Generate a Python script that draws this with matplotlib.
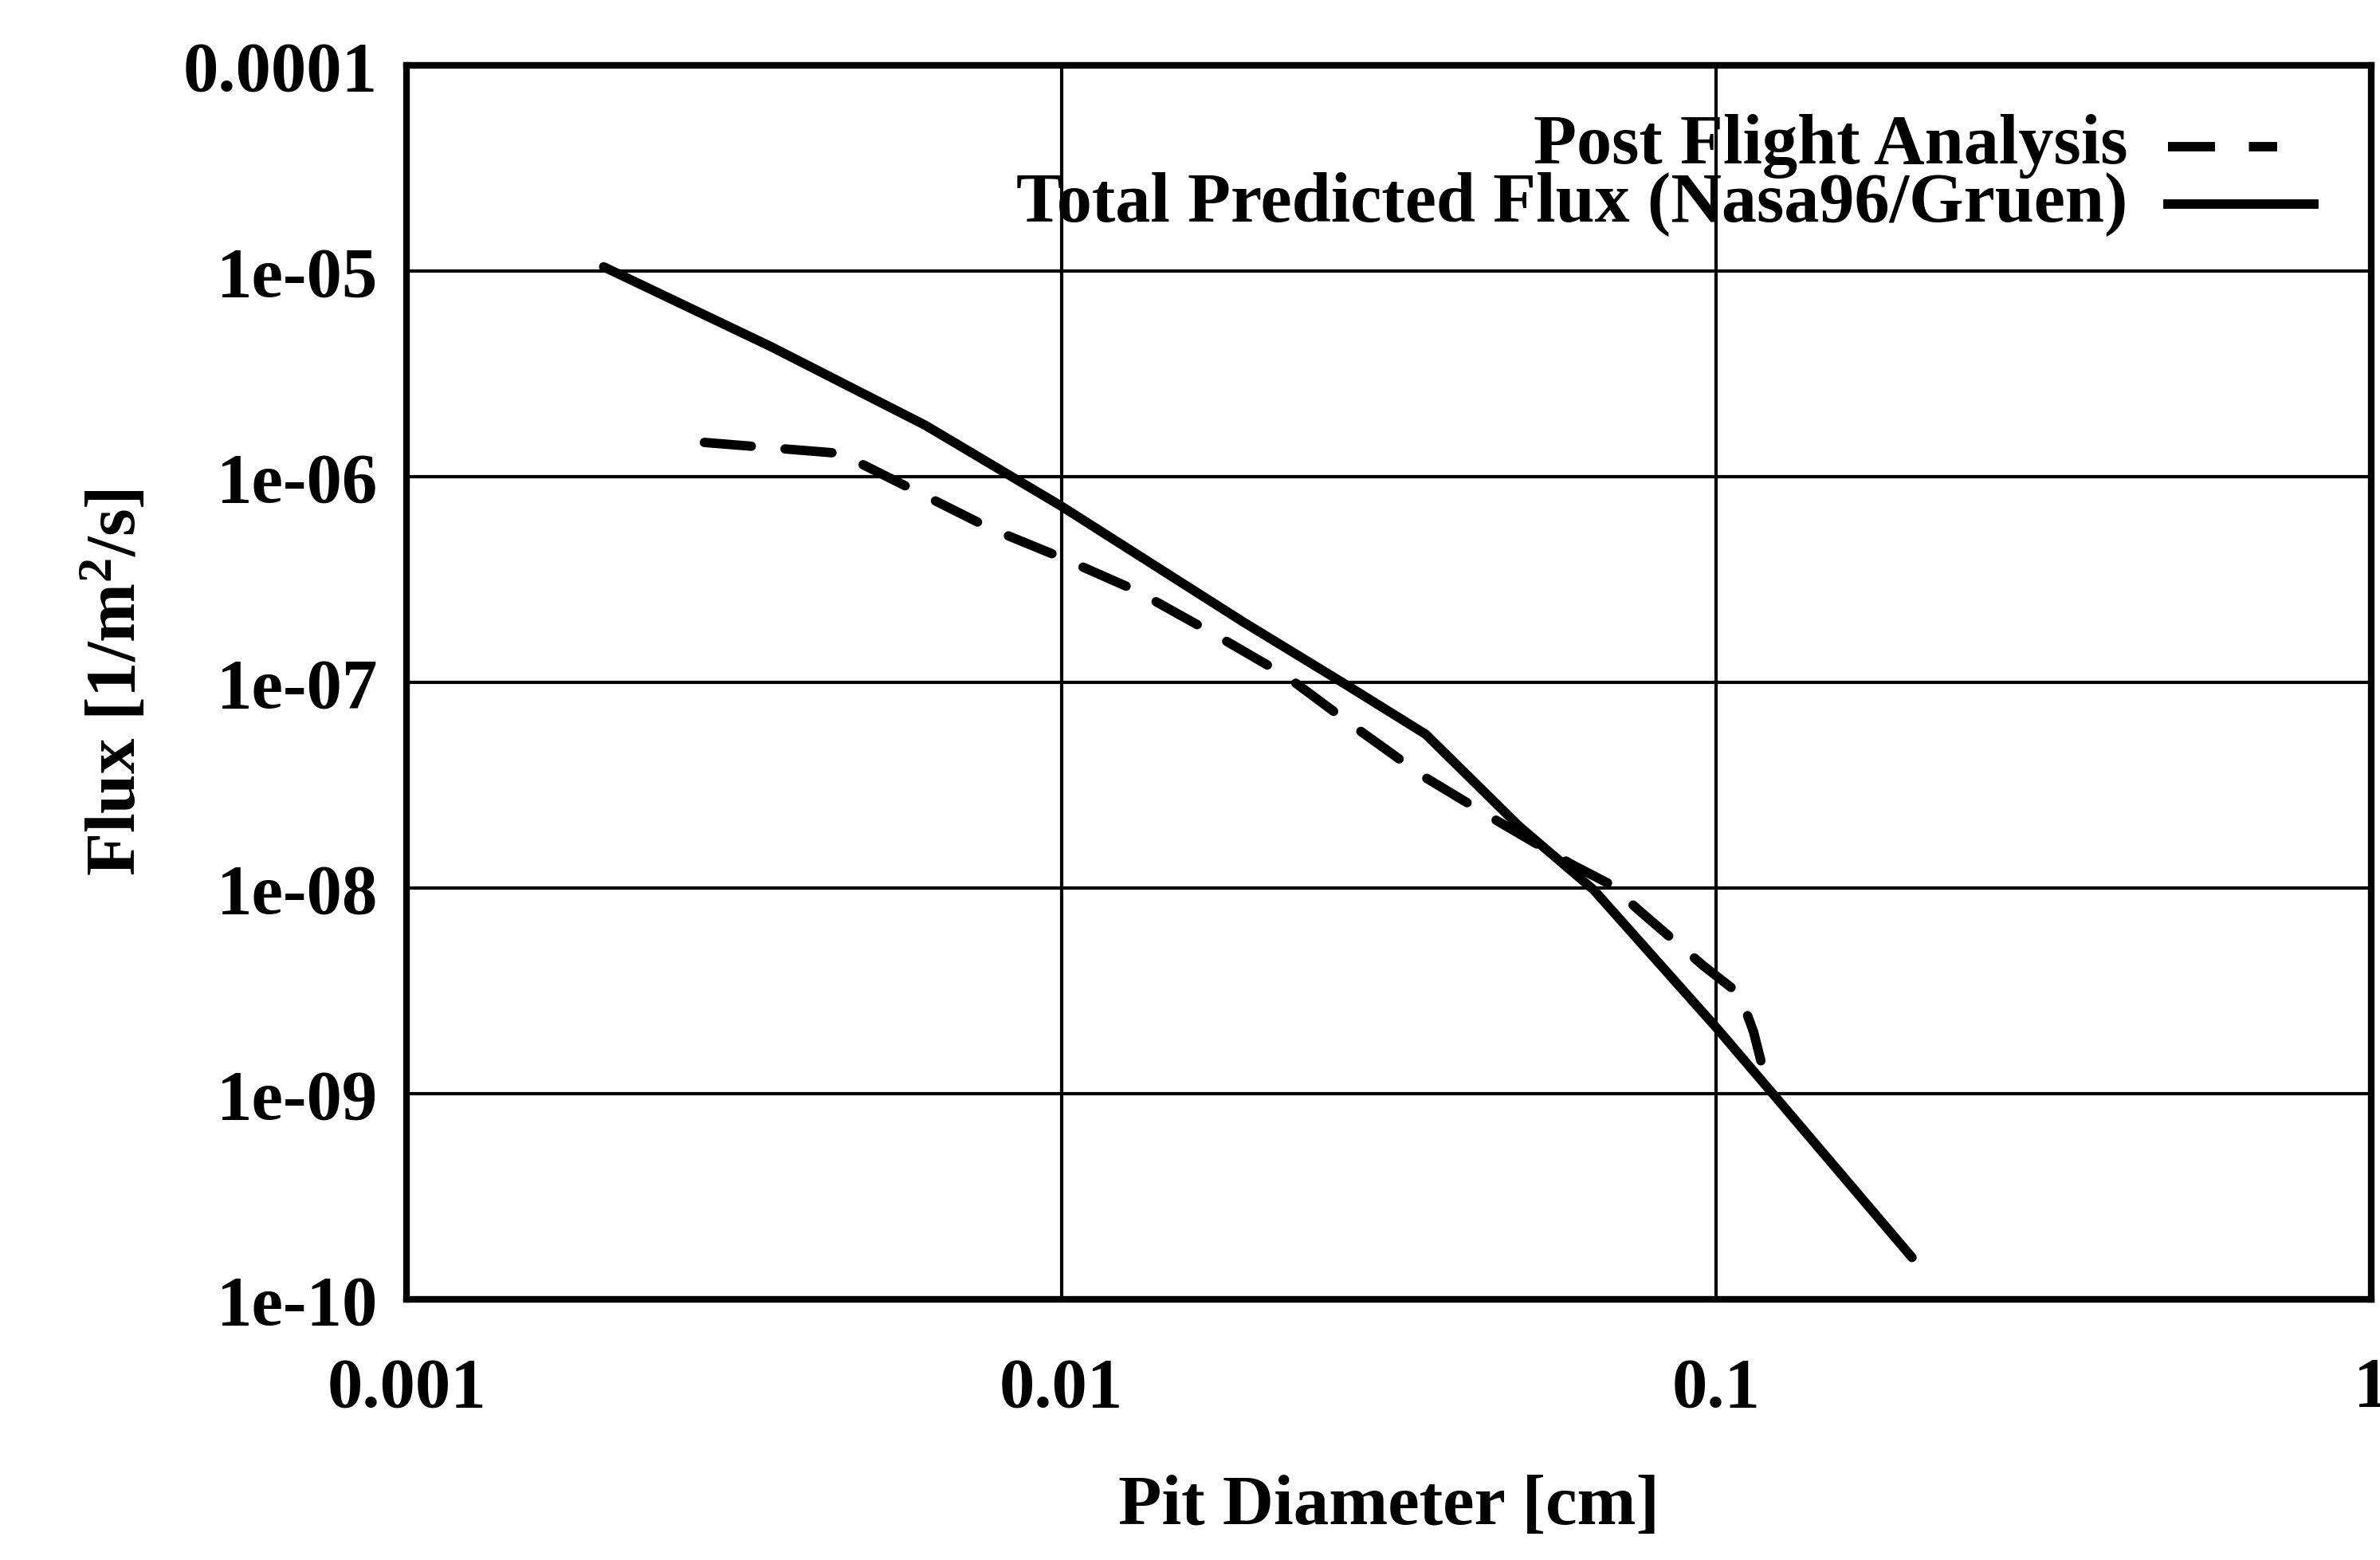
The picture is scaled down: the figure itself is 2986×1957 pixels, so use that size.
import matplotlib
matplotlib.use("Agg")
import matplotlib.pyplot as plt
from matplotlib.ticker import FixedLocator, FixedFormatter, NullLocator

# valeurs
diam_pred = [0.002, 0.0036, 0.0062, 0.01, 0.019, 0.027, 0.036, 0.05, 0.065, 0.1, 0.122, 0.199]
flux_pred = [1.05e-5, 4.3e-6, 1.78e-6, 7.2e-7, 1.96e-7, 9.9e-8, 5.6e-8, 2.0e-8, 9.8e-9, 2.1e-9, 1.0e-9, 1.6e-10]

diam_post = [0.00285, 0.0046, 0.0078, 0.01, 0.013, 0.017, 0.022, 0.028, 0.0357, 0.046,
             0.06, 0.0686, 0.0762, 0.0955, 0.1086, 0.114, 0.12]
flux_post = [1.47e-6, 1.30e-6, 5.6e-7, 4.05e-7, 2.8e-7, 1.74e-7, 1.08e-7, 6.1e-8, 3.5e-8, 2.15e-8,
             1.31e-8, 1.05e-8, 7.8e-9, 4.2e-9, 3.05e-9, 2.0e-9, 1.05e-9]

xticks = [0.001, 0.01, 0.1, 1]
xlabels = ["0.001", "0.01", "0.1", "1"]
yticks = [1e-10, 1e-9, 1e-8, 1e-7, 1e-6, 1e-5, 1e-4]
ylabels = ["1e-10", "1e-09", "1e-08", "1e-07", "1e-06", "1e-05", "0.0001"]

legend_labels = ["Post Flight Analysis", "Total Predicted Flux (Nasa96/Gruen)"]

plt.rcParams['font.family'] = ['Liberation Serif', 'DejaVu Serif']
plt.rcParams['font.weight'] = 'bold'
plt.rcParams['axes.labelweight'] = 'bold'
plt.rcParams['mathtext.default'] = 'regular'

fig = plt.figure(figsize=(29.86, 19.57), dpi=100)
ax = fig.add_axes([0.1708, 0.167, 0.9963 - 0.1708, 0.958 - 0.167])

ax.set_xscale('log')
ax.set_yscale('log')
ax.set_xlim(0.001, 1)
ax.set_ylim(1e-10, 1e-4)

ax.xaxis.set_major_locator(FixedLocator(xticks))
ax.xaxis.set_major_formatter(FixedFormatter(xlabels))
ax.yaxis.set_major_locator(FixedLocator(yticks))
ax.yaxis.set_major_formatter(FixedFormatter(ylabels))
ax.xaxis.set_minor_locator(NullLocator())
ax.yaxis.set_minor_locator(NullLocator())
ax.tick_params(axis='both', length=0, labelsize=64)
ax.tick_params(axis='x', pad=52)
ax.tick_params(axis='y', pad=26)

ax.grid(True, color='black', linewidth=3)
for s in ax.spines.values():
    s.set_linewidth(6)

dash = (0, (5, 3.6))
ax.plot(diam_post, flux_post, color='black', linewidth=8.5, linestyle=dash,
        dash_capstyle='round')
ax.plot(diam_pred, flux_pred, color='black', linewidth=8.5, solid_capstyle='round')

# légende à la gnuplot : texte aligné à droite, échantillon à droite
leg_y = [0.9345, 0.888]
leg_end = [0.952, 0.971]
styles = [dash, '-']
for lab, yy, ls, xe in zip(legend_labels, leg_y, styles, leg_end):
    ax.text(0.876, yy, lab, transform=ax.transAxes, ha='right', va='center', fontsize=63.5)
    ax.plot([0.8966, xe], [yy, yy], transform=ax.transAxes, color='black',
            linewidth=8.5, linestyle=ls, clip_on=False)

ax.set_xlabel("Pit Diameter [cm]", fontsize=64, labelpad=48)
ax.set_ylabel("Flux [1/m$^{2}$/s]", fontsize=64, labelpad=30)

fig.savefig("out.png", dpi=100)
